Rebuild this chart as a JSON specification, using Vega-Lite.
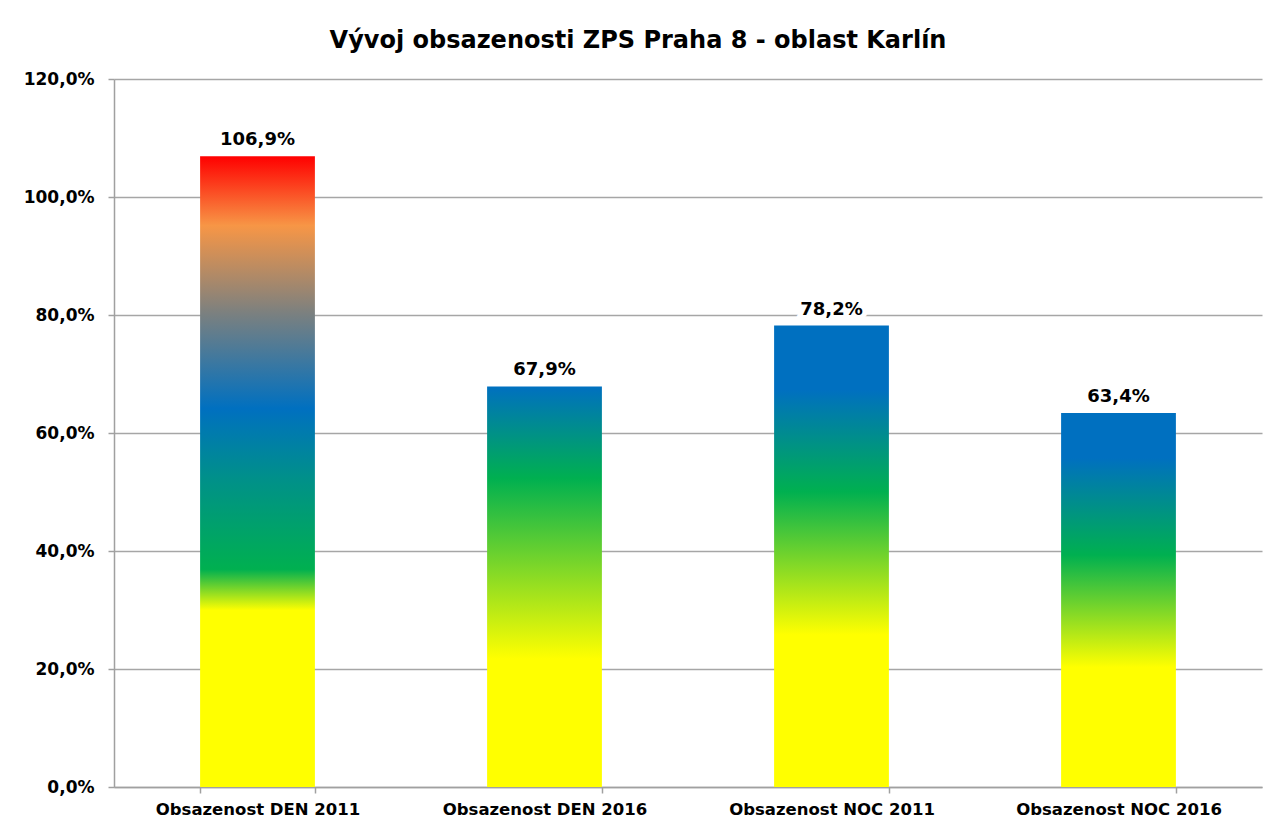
{
  "$schema": "https://vega.github.io/schema/vega-lite/v6.json",
  "width": 1148,
  "height": 708,
  "autosize": {"type": "none"},
  "padding": {"left": 114, "top": 79, "right": 9, "bottom": 40},
  "background": "white",
  "title": {
    "text": "Vývoj obsazenosti ZPS Praha 8 - oblast Karlín",
    "font": "DejaVu Sans",
    "fontSize": 24,
    "fontWeight": "bold",
    "color": "#000000",
    "anchor": "middle",
    "dx": -50,
    "offset": 17
  },
  "data": {
    "values": [
      {"kategorie": "Obsazenost DEN 2011", "obsazenost": 1.069},
      {"kategorie": "Obsazenost DEN 2016", "obsazenost": 0.679},
      {"kategorie": "Obsazenost NOC 2011", "obsazenost": 0.782},
      {"kategorie": "Obsazenost NOC 2016", "obsazenost": 0.634}
    ]
  },
  "encoding": {
    "x": {
      "field": "kategorie",
      "type": "nominal",
      "sort": null,
      "title": null,
      "scale": {"paddingInner": 0.6, "paddingOuter": 0.3},
      "axis": {
        "labelAngle": 0,
        "labelFont": "DejaVu Sans",
        "labelFontSize": 16.5,
        "labelFontWeight": "bold",
        "labelColor": "#000000",
        "labelLimit": 0,
        "labelPadding": 8,
        "tickBand": "extent",
        "tickSize": 6,
        "tickWidth": 1.5,
        "tickColor": "#a0a0a0",
        "domainColor": "#a0a0a0",
        "domainWidth": 1.5,
        "grid": false
      }
    },
    "y": {
      "field": "obsazenost",
      "type": "quantitative",
      "title": null,
      "scale": {"domain": [0, 1.2], "nice": false},
      "axis": {
        "values": [0, 0.2, 0.4, 0.6, 0.8, 1.0, 1.2],
        "format": ".1%",
        "labelFont": "DejaVu Sans",
        "labelFontSize": 17,
        "labelFontWeight": "bold",
        "labelColor": "#000000",
        "labelPadding": 14,
        "tickSize": 6,
        "tickWidth": 1.5,
        "tickColor": "#a0a0a0",
        "domainColor": "#a0a0a0",
        "domainWidth": 1.5,
        "grid": true,
        "gridColor": "#a6a6a6",
        "gridWidth": 1.3
      }
    }
  },
  "layer": [
    {
      "transform": [{"filter": "datum.kategorie === 'Obsazenost DEN 2011'"}],
      "mark": {
        "type": "bar",
        "fill": {
          "gradient": "linear", "x1": 0, "y1": 1, "x2": 0, "y2": 0,
          "stops": [
            {"offset": 0, "color": "#ffff00"},
            {"offset": 0.28, "color": "#ffff00"},
            {"offset": 0.345, "color": "#00b050"},
            {"offset": 0.49, "color": "#00908a"},
            {"offset": 0.6, "color": "#0070c0"},
            {"offset": 0.75, "color": "#7a8080"},
            {"offset": 0.89, "color": "#f79646"},
            {"offset": 1, "color": "#ff0000"}
          ]
        }
      }
    },
    {
      "transform": [{"filter": "datum.kategorie === 'Obsazenost DEN 2016'"}],
      "mark": {
        "type": "bar",
        "fill": {
          "gradient": "linear", "x1": 0, "y1": 1, "x2": 0, "y2": 0,
          "stops": [
            {"offset": 0, "color": "#ffff00"},
            {"offset": 0.32, "color": "#ffff00"},
            {"offset": 0.77, "color": "#00b050"},
            {"offset": 1, "color": "#0070c0"}
          ]
        }
      }
    },
    {
      "transform": [{"filter": "datum.kategorie === 'Obsazenost NOC 2011'"}],
      "mark": {
        "type": "bar",
        "fill": {
          "gradient": "linear", "x1": 0, "y1": 1, "x2": 0, "y2": 0,
          "stops": [
            {"offset": 0, "color": "#ffff00"},
            {"offset": 0.33, "color": "#ffff00"},
            {"offset": 0.64, "color": "#00b050"},
            {"offset": 0.86, "color": "#0070c0"},
            {"offset": 1, "color": "#0070c0"}
          ]
        }
      }
    },
    {
      "transform": [{"filter": "datum.kategorie === 'Obsazenost NOC 2016'"}],
      "mark": {
        "type": "bar",
        "fill": {
          "gradient": "linear", "x1": 0, "y1": 1, "x2": 0, "y2": 0,
          "stops": [
            {"offset": 0, "color": "#ffff00"},
            {"offset": 0.32, "color": "#ffff00"},
            {"offset": 0.62, "color": "#00b050"},
            {"offset": 0.88, "color": "#0070c0"},
            {"offset": 1, "color": "#0070c0"}
          ]
        }
      }
    },
    {
      "mark": {
        "type": "text",
        "baseline": "bottom",
        "dy": -7,
        "font": "DejaVu Sans",
        "fontSize": 18,
        "fontWeight": "bold",
        "color": "#ffffff",
        "stroke": "#ffffff",
        "strokeWidth": 10
      },
      "encoding": {"text": {"field": "obsazenost", "type": "quantitative", "format": ".1%"}}
    },
    {
      "mark": {
        "type": "text",
        "baseline": "bottom",
        "dy": -7,
        "font": "DejaVu Sans",
        "fontSize": 18,
        "fontWeight": "bold",
        "color": "#000000"
      },
      "encoding": {"text": {"field": "obsazenost", "type": "quantitative", "format": ".1%"}}
    }
  ],
  "config": {
    "locale": {
      "number": {"decimal": ",", "thousands": " ", "grouping": [3], "currency": ["", " Kč"]}
    },
    "view": {"stroke": null}
  }
}
